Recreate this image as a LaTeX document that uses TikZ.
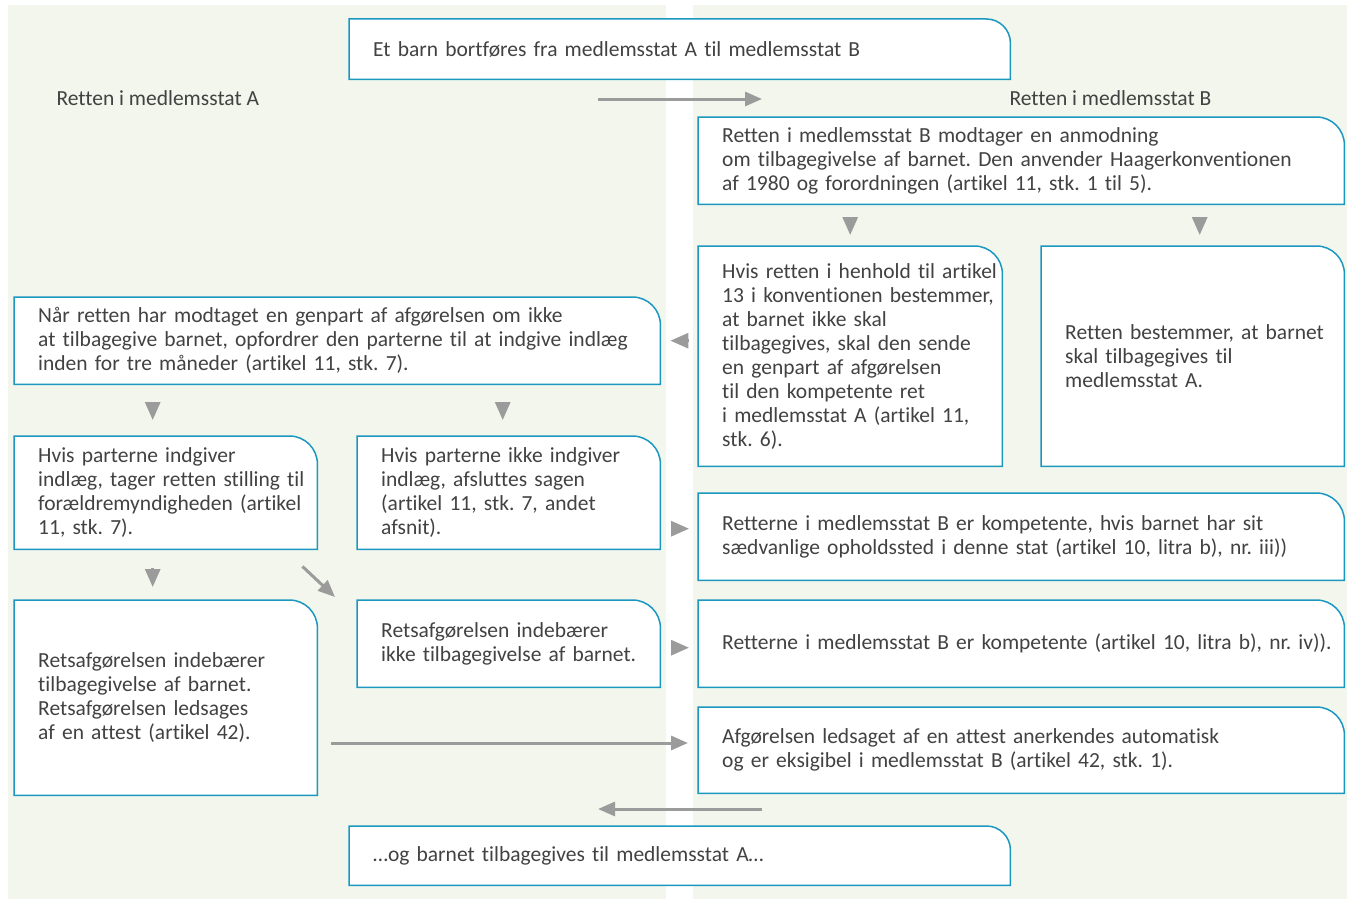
\documentclass[tikz,border=0pt]{standalone}
\usepackage{fontspec}
\setmainfont{Carlito}[Ligatures = NoCommon]
\usetikzlibrary{positioning}
\usetikzlibrary{arrows.meta}
\usetikzlibrary{backgrounds}
\definecolor{panelGreen}{RGB}{243,246,236}
\definecolor{boxBlue}{RGB}{28,152,192}
\definecolor{textGray}{RGB}{66,66,66}
\definecolor{arrowGray}{RGB}{155,155,155}
\frenchspacing

\begin{document}
\begin{tikzpicture}[x = 1pt, y = -1pt]
\tikzstyle{PanelStyle} = [fill = panelGreen]
\tikzstyle{BoxStyle} = [anchor = north west, align = left, inner xsep = 0pt, inner ysep = 0pt, text = textGray, font = \fontsize{21.5}{24}\selectfont]
\tikzstyle{OutlineStyle} = [fill = white, draw = boxBlue, line width = 1.5pt]
\tikzstyle{HeadStyle} = [anchor = west, text = textGray, font = \fontsize{21.5}{24}\selectfont]
\tikzstyle{ArrowStyle} = [draw = arrowGray, line width = 3pt, -{Triangle[length = 17pt, width = 14pt]}]
\tikzstyle{TipStyle} = [draw = arrowGray, line width = 3pt, -{Triangle[length = 18pt, width = 15pt]}]
\useasboundingbox (0,0) rectangle (1347,899);
\node[BoxStyle, text width = 637pt, minimum height = 60pt] (start) at (373,19) {Et barn bortføres fra medlemsstat A til medlemsstat B};
\node[HeadStyle] (headA) at (53,98) {Retten i medlemsstat A};
\node[HeadStyle] (headB) at (1006,98) {Retten i medlemsstat B};
\node[BoxStyle, text width = 622pt, minimum height = 87pt] (bReq) at (722,117) {Retten i medlemsstat B modtager en anmodning\\om tilbagegivelse af barnet. Den anvender Haagerkonventionen\\af 1980 og forordningen (artikel 11, stk. 1 til 5).};
\node[BoxStyle, text width = 280pt, minimum height = 220pt] (bRefuse) at (722,246) {Hvis retten i henhold til artikel\\13 i konventionen bestemmer,\\at barnet ikke skal\\tilbagegives, skal den sende\\en genpart af afgørelsen\\til den kompetente ret\\i medlemsstat A (artikel 11,\\stk. 6).};
\node[BoxStyle, text width = 279pt, minimum height = 220pt] (bReturn) at (1065,246) {Retten bestemmer, at barnet\\skal tilbagegives til\\medlemsstat A.};
\node[BoxStyle, text width = 622pt, minimum height = 87pt] (aCopy) at (38,297) {Når retten har modtaget en genpart af afgørelsen om ikke\\at tilbagegive barnet, opfordrer den parterne til at indgive indlæg\\inden for tre måneder (artikel 11, stk. 7).};
\node[BoxStyle, text width = 279pt, minimum height = 113pt] (aSubmit) at (38,436) {Hvis parterne indgiver\\indlæg, tager retten stilling til\\forældremyndigheden (artikel\\11, stk. 7).};
\node[BoxStyle, text width = 279pt, minimum height = 113pt] (aClose) at (381,436) {Hvis parterne ikke indgiver\\indlæg, afsluttes sagen\\(artikel 11, stk. 7, andet\\afsnit).};
\node[BoxStyle, text width = 622pt, minimum height = 87pt] (bHabit) at (722,493) {Retterne i medlemsstat B er kompetente, hvis barnet har sit\\sædvanlige opholdssted i denne stat (artikel 10, litra b), nr. iii))};
\node[BoxStyle, text width = 279pt, minimum height = 195pt] (aOrder) at (38,600) {Retsafgørelsen indebærer\\tilbagegivelse af barnet.\\Retsafgørelsen ledsages\\af en attest (artikel 42).};
\node[BoxStyle, text width = 279pt, minimum height = 87pt] (aNoReturn) at (381,600) {Retsafgørelsen indebærer\\ikke tilbagegivelse af barnet.};
\node[BoxStyle, text width = 622pt, minimum height = 87pt] (bComp) at (722,600) {Retterne i medlemsstat B er kompetente (artikel 10, litra b), nr. iv)).};
\node[BoxStyle, text width = 622pt, minimum height = 86pt] (bCert) at (722,707) {Afgørelsen ledsaget af en attest anerkendes automatisk\\og er eksigibel i medlemsstat B (artikel 42, stk. 1).};
\node[BoxStyle, text width = 637pt, minimum height = 59pt] (finish) at (373,826) {…og barnet tilbagegives til medlemsstat A…};
\coordinate (crossA) at (598,99);
\coordinate (crossB) at (762,99);
\coordinate (certIn) at (688,743);
\coordinate (leaveB) at (762,809);
\coordinate (arriveA) at (598,809);
\begin{scope}[on background layer]
\fill[PanelStyle] (8,5) rectangle (666,899);
\fill[PanelStyle] (693,5) rectangle (1347,899);
\foreach \b/\r in {start/24,bReq/28,bRefuse/28,bReturn/28,aCopy/28,aSubmit/28,aClose/28,bHabit/28,aOrder/28,aNoReturn/28,bComp/28,bCert/28,finish/24}
  \filldraw[OutlineStyle] ([xshift=-24pt]\b.south west) -- ([xshift=-24pt]\b.north west) -- ([xshift=-\r pt]\b.north east) arc[start angle = 90, end angle = 0, radius = \r pt] -- (\b.south east) -- cycle;
\end{scope}
\draw[ArrowStyle] (crossA) -- (crossB);
\draw[TipStyle] ([xshift=-12pt,yshift=29pt]bRefuse.north) -- ([xshift=-12pt,yshift=11pt]bRefuse.north);
\draw[TipStyle] ([xshift=-5pt,yshift=29pt]bReturn.north) -- ([xshift=-5pt,yshift=11pt]bReturn.north);
\draw[TipStyle] ([xshift=29pt]aCopy.east) -- ([xshift=10pt]aCopy.east);
\draw[TipStyle] ([xshift=-25pt,yshift=34pt]aSubmit.north) -- ([xshift=-25pt,yshift=16pt]aSubmit.north);
\draw[TipStyle] ([xshift=-18pt,yshift=34pt]aClose.north) -- ([xshift=-18pt,yshift=16pt]aClose.north);
\draw[TipStyle] ([xshift=-51pt,yshift=8pt]bHabit.west) -- ([xshift=-33pt,yshift=8pt]bHabit.west);
\draw[TipStyle] ([xshift=-25pt,yshift=32pt]aOrder.north) -- ([xshift=-25pt,yshift=13pt]aOrder.north);
\draw[ArrowStyle] ([xshift=-15pt,yshift=-17pt]aSubmit.south east) -- ([xshift=-46pt,yshift=3pt]aNoReturn.north west);
\draw[TipStyle] ([xshift=-51pt,yshift=-4pt]bComp.west) -- ([xshift=-33pt,yshift=-4pt]bComp.west);
\draw[ArrowStyle] ([xshift=14pt]aOrder.east |- certIn) -- (certIn);
\draw[ArrowStyle] (leaveB) -- (arriveA);
\end{tikzpicture}
\end{document}
